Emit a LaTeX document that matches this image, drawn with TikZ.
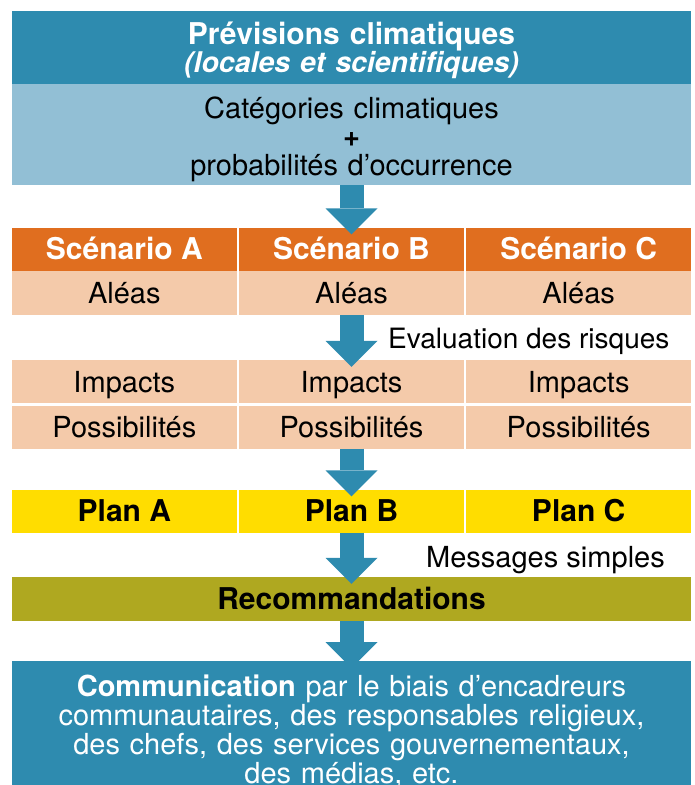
\documentclass[tikz,border=0pt]{standalone}
\usepackage{fontspec}
\setmainfont{TeX Gyre Heros}
\usetikzlibrary{arrows.meta}
\usetikzlibrary{positioning}

\definecolor{forecastblue}{HTML}{2E8BAF}
\definecolor{categoryblue}{HTML}{92BFD5}
\definecolor{scenorange}{HTML}{E06E1F}
\definecolor{riskpeach}{HTML}{F4CAAA}
\definecolor{planyellow}{HTML}{FFDD00}
\definecolor{recoolive}{HTML}{AFA820}

\begin{document}
\begin{tikzpicture}[x=1pt,y=-1pt]
\useasboundingbox (0,0) rectangle (695,785);
\clip (0,0) rectangle (695,785);
% full width boxes
\begin{scope}[every node/.style={rectangle,inner sep=0pt,text width=679pt,align=center,anchor=north}]
    \node[fill=forecastblue,text=white,font=\fontsize{30}{28}\selectfont\bfseries,text height=33pt,text depth=39.5pt] (prev) at (351.5,11) {Prévisions climatiques\\{\fontsize{28.5}{28}\selectfont\itshape (locales et scientifiques)}};
    \node[fill=categoryblue,font=\fontsize{29}{28.5}\selectfont,text height=34.5pt,text depth=67pt] (cat) at (351.5,83.5) {Catégories climatiques\\{\bfseries +}\\probabilités d’occurrence};
    \node[fill=forecastblue,text=white,font=\fontsize{29}{29}\selectfont,text height=35pt,text depth=110pt] (comm) at (351.5,661) {{\bfseries Communication} par le biais d’encadreurs\\communautaires, des responsables religieux,\\des chefs, des services gouvernementaux,\\des médias, etc.};
\end{scope}
% scenario columns
\begin{scope}[every node/.style={rectangle,inner sep=0pt,minimum width=224.67pt,minimum height=43pt,text height=21pt,text depth=0pt,font=\fontsize{29}{29}\selectfont}]
    \node[fill=scenorange,text=white,font=\fontsize{30}{30}\selectfont\bfseries] (scA) at (124.33,249) {Scénario A};
    \node[fill=scenorange,text=white,font=\fontsize{30}{30}\selectfont\bfseries] (scB) at (351.5,249) {Scénario B};
    \node[fill=scenorange,text=white,font=\fontsize{30}{30}\selectfont\bfseries] (scC) at (578.67,249) {Scénario C};
    \node[fill=riskpeach,minimum height=44.5pt] (alA) at (124.33,292.75) {Aléas};
    \node[fill=riskpeach,minimum height=44.5pt] (alB) at (351.5,292.75) {Aléas};
    \node[fill=riskpeach,minimum height=44.5pt] (alC) at (578.67,292.75) {Aléas};
    \node[fill=riskpeach] (impA) at (124.33,381.5) {Impacts};
    \node[fill=riskpeach] (impB) at (351.5,381.5) {Impacts};
    \node[fill=riskpeach] (impC) at (578.67,381.5) {Impacts};
    \node[fill=riskpeach] (posA) at (124.33,427) {Possibilités};
    \node[fill=riskpeach] (posB) at (351.5,427) {Possibilités};
    \node[fill=riskpeach] (posC) at (578.67,427) {Possibilités};
    \node[fill=planyellow,font=\fontsize{30}{30}\selectfont\bfseries] (planA) at (124.33,511) {Plan A};
    \node[fill=planyellow,font=\fontsize{30}{30}\selectfont\bfseries] (planB) at (351.5,511) {Plan B};
    \node[fill=planyellow,font=\fontsize{30}{30}\selectfont\bfseries] (planC) at (578.67,511) {Plan C};
    \node[fill=recoolive,minimum width=679pt,minimum height=44pt,font=\fontsize{30}{30}\selectfont\bfseries] (reco) at (351.5,599) {Recommandations};
\end{scope}
% side notes
\begin{scope}[every node/.style={inner sep=0pt,anchor=west,text height=21pt,text depth=0pt,font=\fontsize{29}{29}\selectfont}]
    \node[font=\fontsize{28}{28}\selectfont] (risk) at (388,338) {Evaluation des risques};
    \node (msg) at (426,557) {Messages simples};
\end{scope}
% block arrows
\begin{scope}[every edge/.style={draw=forecastblue,line width=24pt,-{Triangle[width=52pt,length=26pt,line width=0pt]},shorten >=-7pt}]
    \path (cat) edge (scB);
    \path (alB) edge (impB);
    \path (posB) edge (planB);
    \path (planB) edge (reco);
    \path (reco) edge (comm);
\end{scope}
\end{tikzpicture}
\end{document}
